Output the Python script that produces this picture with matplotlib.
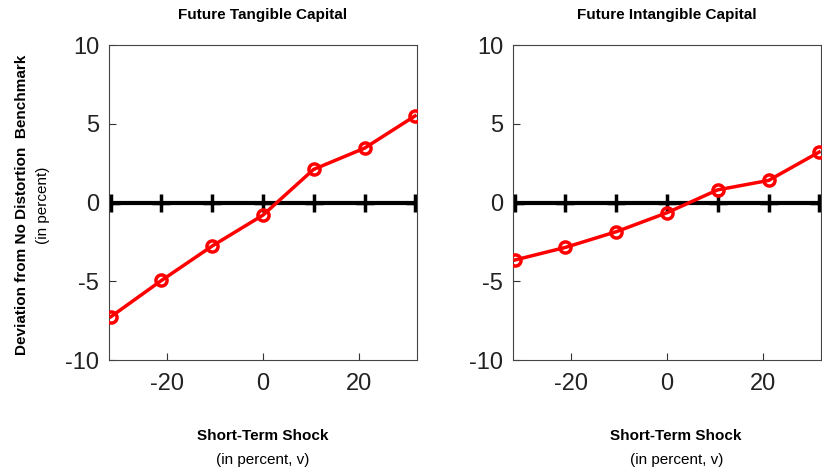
import numpy as np
import matplotlib.pyplot as plt

shock = [-31.6, -21.1, -10.5, 0, 10.5, 21.1, 31.6]
tangible = [-7.25, -4.95, -2.75, -0.8, 2.1, 3.45, 5.5]
intangible = [-3.65, -2.85, -1.85, -0.65, 0.8, 1.4, 3.2]
titles = ['Future Tangible Capital', 'Future Intangible Capital']

plt.rcParams['font.family'] = 'Liberation Sans'

fig = plt.figure(figsize=(8.22, 4.73), dpi=100)
ax1 = fig.add_axes([109/822, 1 - 360/473, 308/822, 315/473])
ax2 = fig.add_axes([513/822, 1 - 360/473, 308/822, 315/473])

for ax, vals, title, xoff in zip([ax1, ax2], [tangible, intangible], titles, [0.5, 0.53]):
    ax.plot([-32, 32], [0, 0], color='black', lw=3, zorder=2)
    ax.plot(shock, np.zeros(len(shock)), '+', color='black', ms=13, mew=2.5, zorder=2)
    ax.plot(shock, vals, '-o', color='red', lw=2.5, ms=8, mfc='none', mew=2.5, zorder=3)
    ax.set_xlim(-32, 32)
    ax.set_ylim(-10, 10)
    ax.set_xticks([-20, 0, 20])
    ax.set_yticks([-10, -5, 0, 5, 10])
    ax.set_yticklabels(['-10', '-5', '0', '5', '10'])
    ax.set_xticklabels(['-20', '0', '20'])
    ax.tick_params(direction='in', labelsize=17, length=5, colors='#333333', labelcolor='#222222')
    ax.tick_params(axis='y', pad=7)
    ax.tick_params(axis='x', pad=9)
    for s in ax.spines.values():
        s.set_color('#444444')
    ax.set_title(title, fontsize=11, fontweight='bold', pad=19)
    ax.text(xoff, -0.255, 'Short-Term Shock', transform=ax.transAxes, ha='center',
            fontsize=11, fontweight='bold')
    ax.text(xoff, -0.33, '(in percent, v)', transform=ax.transAxes, ha='center', fontsize=11)

fig.text(22/822, 1 - 205/473, 'Deviation from No Distortion  Benchmark', rotation=90,
         ha='center', va='center', fontsize=11, fontweight='bold')
fig.text(43/822, 1 - 205/473, '(in percent)', rotation=90, ha='center', va='center', fontsize=11)

fig.savefig('out.png', dpi=100)
